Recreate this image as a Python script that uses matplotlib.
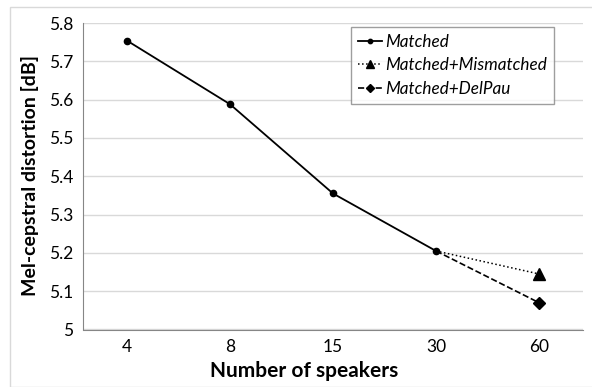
import numpy as np
import matplotlib.pyplot as plt
from matplotlib.patches import Rectangle
from matplotlib.ticker import FormatStrFormatter

plt.rcParams['font.family'] = ['Lato', 'DejaVu Sans']

speakers = ['4', '8', '15', '30', '60']
matched = [5.754, 5.588, 5.355, 5.205]
mismatched = [5.205, 5.145]   # from 30 to 60
delpau = [5.205, 5.070]       # from 30 to 60

fig = plt.figure(figsize=(5.92, 3.87), dpi=100)
# light chart border like the spreadsheet frame
fig.patches.append(Rectangle((10/592, 0), 1, 1 - 7/387, transform=fig.transFigure,
                             fill=False, edgecolor='#d9d9d9', lw=1))
ax = fig.add_axes([83/592, 1 - 329.5/387, 500/592, (329.5 - 23)/387])

x = np.arange(len(speakers))
ax.plot(x[:4], matched, '-', color='black', lw=1.3, marker='o', ms=4.5, label='Matched')
ax.plot(x[3:], mismatched, ':', color='black', lw=1.1, marker='^', ms=8,
        markevery=[1], label='Matched+Mismatched')
ax.plot(x[3:], delpau, '--', color='black', lw=1.2, marker='D', ms=6,
        markevery=[1], label='Matched+DelPau')

ax.set_xlim(-0.427, 4.427)
ax.set_ylim(5.0, 5.8)
ax.set_xticks(x)
ax.set_xticklabels(speakers)
ax.set_yticks(np.arange(5.0, 5.81, 0.1))
ax.yaxis.set_major_formatter(FormatStrFormatter('%g'))
ax.tick_params(length=0, labelsize=12.5, pad=7)
ax.grid(axis='y', color='#d9d9d9', lw=1)
ax.set_axisbelow(True)
for s in ['top', 'right']:
    ax.spines[s].set_visible(False)
for s in ['left', 'bottom']:
    ax.spines[s].set_color('#868686')

fig.text(304/592, 1 - 371/387, 'Number of speakers', fontsize=15, fontweight='bold',
         ha='center', va='center')
fig.text(30/592, 1 - 176/387, 'Mel-cepstral distortion [dB]', fontsize=14,
         fontweight='bold', ha='center', va='center', rotation=90)

leg = ax.legend(loc='upper left', bbox_to_anchor=(0.536, 0.988), handlelength=1.4,
                handletextpad=0.2, prop={'style': 'italic', 'size': 12.3},
                frameon=True, fancybox=False, borderpad=0.4, labelspacing=0.45,
                markerscale=0.7, borderaxespad=0)
leg.get_frame().set_edgecolor('#868686')
leg.get_frame().set_linewidth(1)

fig.savefig('out.png', dpi=100)
